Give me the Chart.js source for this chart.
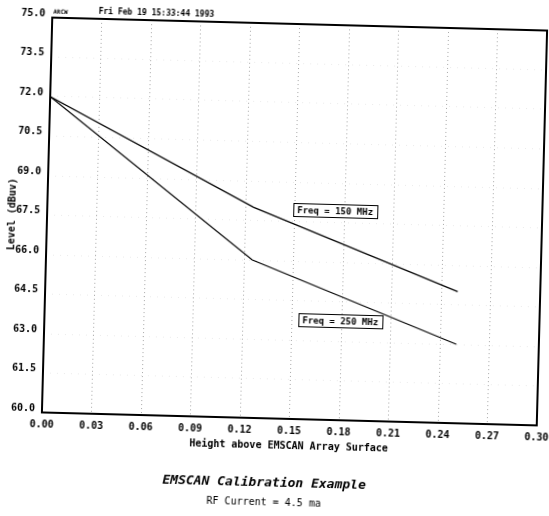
<!DOCTYPE html>
<html>
<head>
<meta charset="utf-8">
<title>EMSCAN Calibration Example</title>
<script src="https://cdn.jsdelivr.net/npm/chart.js@4.4.1/dist/chart.umd.min.js"></script>
<style>
    html, body { margin: 0; padding: 0; background: #fff; overflow: hidden; }
    /* лист был отсканирован с небольшим перекосом */
    #plot {
        position: absolute; left: 0; top: 0;
        transform: rotate(1.5deg);
        transform-origin: 294.5px 221.5px;
    }
</style>
</head>
<body>
<canvas id="plot" width="600" height="560"></canvas>
<script>
// Данные графика
const heights = [0, 0.125, 0.25];
const level150 = [72.0, 68.0, 65.0];
const level250 = [72.0, 66.0, 63.0];

// Метки осей
const xTickValues = [0, 0.03, 0.06, 0.09, 0.12, 0.15, 0.18, 0.21, 0.24, 0.27, 0.30];
const yTickValues = [60, 61.5, 63, 64.5, 66, 67.5, 69, 70.5, 72, 73.5, 75];

const stamp = 'Fri Feb 19 15:33:44 1993';
const mono = '"DejaVu Sans Mono", monospace';

// Подписи кривых (в координатах осей)
const notes = [
    { text: 'Freq = 150 MHz', x: 0.1489, y: 67.94 },
    { text: 'Freq = 250 MHz', x: 0.1537, y: 63.75 }
];

function points(values) {
    return heights.map((h, i) => ({ x: h, y: values[i] }));
}

// Рамка, шапка и подписи
const framePlugin = {
    id: 'frame',
    afterDraw(chart) {
        const { ctx, chartArea: a, scales } = chart;
        ctx.save();
        ctx.strokeStyle = '#000';
        ctx.lineWidth = 2;
        ctx.strokeRect(a.left, a.top, a.right - a.left, a.bottom - a.top);

        ctx.fillStyle = '#000';
        ctx.textBaseline = 'middle';
        ctx.textAlign = 'left';
        ctx.font = 'bold 6px ' + mono;
        ctx.fillText('ARCW', a.left + 1, a.top - 6);
        ctx.font = 'bold 8px ' + mono;
        ctx.textAlign = 'center';
        ctx.fillText(stamp, a.left + 104, a.top - 7);

        ctx.font = 'bold 9px ' + mono;
        ctx.textAlign = 'left';
        ctx.lineWidth = 1;
        notes.forEach(note => {
            const px = Math.round(scales.x.getPixelForValue(note.x));
            const py = Math.round(scales.y.getPixelForValue(note.y));
            const w = Math.round(ctx.measureText(note.text).width) + 8;
            ctx.fillStyle = '#fff';
            ctx.fillRect(px, py - 7, w, 14);
            ctx.strokeRect(px + 0.5, py - 6.5, w, 13);
            ctx.fillStyle = '#000';
            ctx.fillText(note.text, px + 4, py + 0.5);
        });
        ctx.restore();
    }
};

new Chart(document.getElementById('plot').getContext('2d'), {
    type: 'line',
    data: {
        datasets: [{
            label: 'Freq = 150 MHz',
            data: points(level150),
            borderColor: '#000',
            borderWidth: 1.2,
            pointRadius: 0,
            tension: 0,
            fill: false
        }, {
            label: 'Freq = 250 MHz',
            data: points(level250),
            borderColor: '#000',
            borderWidth: 1.2,
            pointRadius: 0,
            tension: 0,
            fill: false
        }]
    },
    options: {
        responsive: false,
        animation: false,
        devicePixelRatio: 1,
        layout: { padding: { left: 0, top: 24, right: 58, bottom: 50.4 } },
        plugins: {
            legend: { display: false },
            tooltip: { enabled: false },
            title: {
                display: true,
                position: 'bottom',
                weight: 1,
                text: 'EMSCAN Calibration Example',
                color: '#000',
                font: { family: mono, size: 13, weight: 'bold', style: 'italic', lineHeight: 1.2 },
                padding: { top: 24, bottom: 0 }
            },
            subtitle: {
                display: true,
                position: 'bottom',
                weight: 2,
                text: 'RF Current = 4.5 ma',
                color: '#000',
                font: { family: mono, size: 10, lineHeight: 1.2 },
                padding: { top: 6, bottom: 0 }
            }
        },
        scales: {
            x: {
                type: 'linear',
                min: 0,
                max: 0.3,
                afterBuildTicks: scale => { scale.ticks = xTickValues.map(v => ({ value: v })); },
                afterFit: scale => { scale.height = 33; scale.paddingLeft = 0; scale.paddingRight = 0; },
                ticks: {
                    padding: 6,
                    maxRotation: 0,
                    autoSkip: false,
                    color: '#000',
                    font: { family: mono, size: 10, weight: 'bold', lineHeight: 1.2 },
                    callback: v => v.toFixed(2)
                },
                grid: { color: '#a8a8a8', lineWidth: 1, drawTicks: false },
                border: { display: false, dash: [1, 3] },
                title: {
                    display: true,
                    text: 'Height above EMSCAN Array Surface',
                    color: '#000',
                    font: { family: mono, size: 10, weight: 'bold', lineHeight: 1.2 },
                    padding: { top: 3, bottom: 0 }
                }
            },
            y: {
                min: 60,
                max: 75,
                afterBuildTicks: scale => { scale.ticks = yTickValues.map(v => ({ value: v })); },
                afterFit: scale => { scale.width = 47; },
                ticks: {
                    padding: 7,
                    labelOffset: -4,
                    color: '#000',
                    font: { family: mono, size: 10, weight: 'bold', lineHeight: 1.2 },
                    callback: v => v.toFixed(1)
                },
                grid: { color: 'rgba(0,0,0,0.08)', lineWidth: 1, drawTicks: false },
                border: { display: false, dash: [1, 6] },
                title: {
                    display: true,
                    text: 'Level (dBuv)',
                    color: '#000',
                    font: { family: mono, size: 10, weight: 'bold', lineHeight: 1.2 },
                    padding: { top: 6, bottom: 0 }
                }
            }
        }
    },
    plugins: [framePlugin]
});
</script>
</body>
</html>
